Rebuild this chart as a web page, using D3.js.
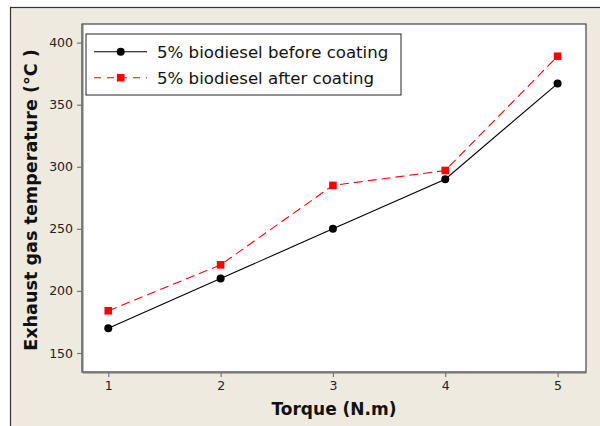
<!DOCTYPE html>
<html><head><meta charset="utf-8">
<script src="https://cdn.jsdelivr.net/npm/d3@7"></script>
<style>body{margin:0;background:#fff}</style>
</head><body>
<svg id="c" width="600" height="426"></svg>
<script>
const torque = [1, 2, 3, 4, 5];
const beforeCoating = [170, 210, 250, 290, 367];
const afterCoating = [184, 221, 285, 297, 389];
const yTicks = [150, 200, 250, 300, 350, 400];
const xTicks = [1, 2, 3, 4, 5];
const seriesNames = ["5% biodiesel before coating", "5% biodiesel after coating"];

const svg = d3.select("#c");
const font = "Tahoma, 'DejaVu Sans', Verdana, sans-serif";
// outer panel
svg.append("rect").attr("x", 10.5).attr("y", 7.5).attr("width", 620).attr("height", 440)
  .attr("fill", "#EEEAE0").attr("stroke", "#333").attr("stroke-width", 1.2);

const L = 82, T = 24, R = 586, B = 372;
const x = d3.scaleLinear().domain([0.766, 5.253]).range([L, R]);
const y = d3.scaleLinear().domain([134.7, 415]).range([B, T]);

svg.append("rect").attr("x", L).attr("y", T).attr("width", R - L).attr("height", B - T)
  .attr("fill", "#fff").attr("stroke", "#222").attr("stroke-width", 1);

const gx = svg.append("g").attr("transform", `translate(0,${B})`)
  .call(d3.axisBottom(x).tickValues(xTicks).tickSize(5).tickSizeOuter(0).tickPadding(4).tickFormat(d3.format("d")));
const gy = svg.append("g").attr("transform", `translate(${L},0)`)
  .call(d3.axisLeft(y).tickValues(yTicks).tickSize(5).tickSizeOuter(0).tickPadding(4));
[gx, gy].forEach(g => {
  g.select(".domain").attr("stroke", "#777").attr("stroke-width", 2);
  g.selectAll(".tick line").attr("stroke", "#777").attr("stroke-width", 1.2);
  g.selectAll("text").attr("font-family", font).attr("font-size", 12.5).attr("fill", "#222");
});

const line = d3.line().x((d, i) => x(torque[i])).y(d => y(d));
svg.append("path").datum(beforeCoating).attr("d", line).attr("fill", "none")
  .attr("stroke", "#000").attr("stroke-width", 1.1);
svg.append("path").datum(afterCoating).attr("d", line).attr("fill", "none")
  .attr("stroke", "#FF0000").attr("stroke-width", 1.1).attr("stroke-dasharray", "9,5");

svg.selectAll("circle.b").data(beforeCoating).enter().append("circle")
  .attr("cx", (d, i) => x(torque[i])).attr("cy", d => y(d)).attr("r", 4).attr("fill", "#000");
svg.selectAll("rect.a").data(afterCoating).enter().append("rect")
  .attr("x", (d, i) => x(torque[i]) - 3.8).attr("y", d => y(d) - 3.8)
  .attr("width", 7.6).attr("height", 7.6).attr("fill", "#FF0000");

// legend
const lg = svg.append("g");
lg.append("rect").attr("x", 86).attr("y", 34).attr("width", 315).attr("height", 61)
  .attr("fill", "#fff").attr("stroke", "#222").attr("stroke-width", 1);
const rows = [51.7, 77.7];
lg.append("line").attr("x1", 94).attr("x2", 147).attr("y1", rows[0]).attr("y2", rows[0]).attr("stroke", "#000").attr("stroke-width", 1.1);
lg.append("circle").attr("cx", 120.7).attr("cy", rows[0]).attr("r", 4).attr("fill", "#000");
lg.append("line").attr("x1", 94).attr("x2", 147).attr("y1", rows[1]).attr("y2", rows[1]).attr("stroke", "#FF0000").attr("stroke-width", 1.1).attr("stroke-dasharray", "7,6");
lg.append("rect").attr("x", 120.7 - 3.8).attr("y", rows[1] - 3.8).attr("width", 7.6).attr("height", 7.6).attr("fill", "#FF0000");
seriesNames.forEach((n, i) => {
  lg.append("text").attr("x", 157).attr("y", rows[i]).attr("dy", "0.35em")
    .attr("font-family", font).attr("font-size", 16.6).attr("fill", "#111").text(n);
});

// axis titles
svg.append("text").attr("x", (L + R) / 2).attr("y", 415).attr("text-anchor", "middle")
  .attr("font-family", font).attr("font-weight", "bold").attr("font-size", 17).attr("fill", "#111")
  .text("Torque (N.m)");
svg.append("text").attr("transform", `translate(36.5,200) rotate(-90)`).attr("text-anchor", "middle")
  .attr("font-family", font).attr("font-weight", "bold").attr("font-size", 17.6).attr("fill", "#111")
  .text("Exhaust gas temperature (°C )");
</script>
</body></html>
